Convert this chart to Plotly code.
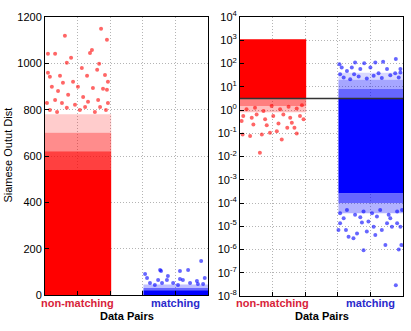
import plotly.graph_objects as go

# ---------------- data ----------------
categories = ["non-matching", "matching"]
cat_pos = [1, 4]
red_x_span = [0.0, 2.03]
blue_x_span = [3.02, 5.0]

# Left panel (linear): dense bands [lo, hi] and relative density
red_lin_bands_lo = [0, 540, 620, 700]
red_lin_bands_hi = [540, 620, 700, 780]
red_lin_density = [1.0, 0.75, 0.45, 0.2]
blue_lin_bands_lo = [0, 20, 30]
blue_lin_bands_hi = [20, 30, 45]
blue_lin_density = [1.0, 0.6, 0.25]

red_lin_out_x = [0.09, 0.31, 0.61, 1.72, 1.9, 1.38, 1.44, 0.67, 0.8, 1.66, 0.09, 0.15, 0.46, 1.13, 1.29,
                 1.6, 1.84, 1.93, 0.55, 0.86, 0.21, 0.4, 1.01, 1.47, 1.78, 1.9, 0.71, 1.17, 0.31, 1.63,
                 0.06, 0.52, 0.92, 1.32, 1.69, 1.93, 0.15, 0.37, 0.67, 1.07, 1.23, 1.53, 1.87]
red_lin_out_y = [1041, 1041, 1119, 1149, 1102, 1045, 1058, 1002, 1024, 998, 959, 942, 946, 980, 946,
                 972, 950, 920, 916, 920, 899, 881, 899, 894, 890, 886, 864, 855, 842, 842,
                 829, 829, 821, 834, 812, 829, 799, 790, 808, 799, 812, 790, 799]

blue_lin_out_x = [4.79, 3.56, 4.14, 4.39, 3.07, 3.77, 3.13, 3.47, 3.74, 4.14, 4.23, 4.66, 4.9,
                  3.22, 3.37, 3.59, 3.93, 4.08, 4.45, 4.69, 4.85, 3.53]
blue_lin_out_y = [147, 104, 104, 108, 91, 82, 73, 65, 65, 69, 65, 60, 73,
                  52, 43, 52, 52, 43, 52, 47, 47, 108]

# Right panel (log): dense bands and outliers (values)
threshold = 3.16
red_log_bands_lo = [3.16, 1.5, 0.8]
red_log_bands_hi = [1100, 3.16, 1.5]
red_log_density = [1.0, 0.5, 0.25]
blue_log_bands_lo = [2.6e-4, 1e-4, 3.6e-5, 3.16, 8, 20]
blue_log_bands_hi = [3.16, 2.6e-4, 1e-4, 8, 20, 40]
blue_log_density = [1.0, 0.6, 0.3, 0.6, 0.35, 0.15]

red_log_out_x = [0.61, 0.08, 0.31, 0.67, 0.92, 1.28, 1.45, 1.67, 1.74, 1.13, 0.82,
                 0.1, 0.36, 0.51, 0.77, 1.02, 1.33, 1.54, 1.84, 1.95,
                 0.2, 0.46, 0.72, 0.97, 1.23, 1.49, 1.74, 1.9, 0.41, 1.18, 1.59, 0.05]
red_log_out_exp = [-1.84, -1.05, -1.12, -1.05, -0.98, -1.27, -0.76, -0.76, -1.01, -0.91, -0.66,
                   -0.26, -0.33, -0.19, -0.4, -0.26, -0.19, -0.33, -0.26, -0.4,
                   0.03, 0.1, -0.04, 0.17, 0.03, 0.14, 0.06, 0.2, -0.62, -0.58, -0.55, -0.47]

blue_log_out_x = [3.05, 3.12, 3.28, 3.53, 3.81, 4.15, 4.39, 4.78, 4.92, 4.51, 4.0, 3.69, 3.43,
                  3.18, 3.38, 3.64, 3.89, 4.10, 4.35, 4.61, 4.87, 4.92, 3.07, 3.5, 4.25, 4.76,
                  3.07, 3.02, 3.25, 3.33, 3.59, 3.48, 3.74, 3.89, 3.94, 4.10, 4.15, 4.35, 4.46,
                  4.51, 4.66, 4.82, 4.92, 4.95, 4.87, 3.79, 4.78,
                  3.07, 3.28, 3.53, 3.79, 4.05, 4.30, 4.56, 4.82, 4.97, 3.18, 3.69, 4.2, 4.61]
blue_log_out_exp = [1.97, 1.83, 1.68, 2.04, 2.01, 2.04, 2.07, 2.19, 1.76, 1.76, 1.83, 1.76, 1.83,
                    1.40, 1.32, 1.44, 1.35, 1.47, 1.38, 1.50, 1.40, 1.61, 1.54, 1.54, 1.58, 1.58,
                    -4.87, -5.16, -5.16, -5.45, -5.31, -5.52, -4.84, -5.23, -4.80, -5.02, -5.38, -5.16, -5.81,
                    -4.87, -5.02, -4.87, -5.02, -5.81, -6.0, -6.03, -7.54,
                    -4.44, -4.30, -4.51, -4.37, -4.44, -4.30, -4.51, -4.37, -4.30, -4.66, -4.61, -4.58, -4.66]

left_yticks = [0, 200, 400, 600, 800, 1000, 1200]
right_exps = list(range(-8, 5))
x_title = "Data Pairs"
y_title = "Siamese Outut Dist"

# ---------------- style ----------------
RED = "rgb(255,0,0)"
BLUE = "rgb(0,0,255)"
FONT = "Liberation Sans, Arial, sans-serif"
GRID = "#b4b4b4"
DOT = "1px,2px"

fig = go.Figure()


def add_bands(xspan, los, his, dens, color, xa, ya):
    for lo, hi, d in zip(los, his, dens):
        fig.add_trace(go.Scatter(
            x=[xspan[0], xspan[1], xspan[1], xspan[0], xspan[0]],
            y=[lo, lo, hi, hi, lo], mode="lines", fill="toself",
            fillcolor=color, opacity=d, line=dict(width=0),
            hoverinfo="skip", showlegend=False, xaxis=xa, yaxis=ya))


def add_points(xs, ys, color, xa, ya):
    fig.add_trace(go.Scatter(x=xs, y=ys, mode="markers",
                             marker=dict(size=4, color=color, opacity=0.6, line=dict(width=0)),
                             showlegend=False, xaxis=xa, yaxis=ya))


# left panel
add_bands(red_x_span, red_lin_bands_lo, red_lin_bands_hi, red_lin_density, RED, "x", "y")
add_bands(blue_x_span, blue_lin_bands_lo, blue_lin_bands_hi, blue_lin_density, BLUE, "x", "y")
add_points(red_lin_out_x, red_lin_out_y, RED, "x", "y")
add_points(blue_lin_out_x, blue_lin_out_y, BLUE, "x", "y")

# right panel
add_bands(red_x_span, red_log_bands_lo, red_log_bands_hi, red_log_density, RED, "x2", "y2")
add_bands(blue_x_span, blue_log_bands_lo, blue_log_bands_hi, blue_log_density, BLUE, "x2", "y2")
add_points(red_log_out_x, [10 ** e for e in red_log_out_exp], RED, "x2", "y2")
add_points(blue_log_out_x, [10 ** e for e in blue_log_out_exp], BLUE, "x2", "y2")
fig.add_trace(go.Scatter(x=[0, 5], y=[threshold, threshold], mode="lines",
                         line=dict(color="#333333", width=1.5), showlegend=False,
                         xaxis="x2", yaxis="y2"))

common_x = dict(range=[0, 5], tickvals=[1, 2, 3, 4], showticklabels=False,
                showgrid=True, gridcolor=GRID, griddash=DOT, gridwidth=1,
                showline=True, linecolor="black", linewidth=1, mirror=True, automargin=False,
                ticks="inside", ticklen=4, tickcolor="black", zeroline=False)
common_y = dict(showline=True, linecolor="black", linewidth=1, mirror=True, automargin=False,
                showgrid=True, gridcolor=GRID, griddash=DOT, gridwidth=1,
                ticks="inside", ticklen=4, tickcolor="black", zeroline=False,
                tickfont=dict(size=11, family=FONT, color="black"))

label_y = 1 - 303 / 331
title_y = 1 - 316 / 331
panels = [(45 / 411, 208 / 411), (240 / 411, 403 / 411)]
annotations = []
for (d0, d1) in panels:
    w = d1 - d0
    for cat, pos, col in zip(categories, cat_pos, ["#d81e3a", "#2a2acc"]):
        annotations.append(dict(text="<b>%s</b>" % cat, x=d0 + w * pos / 5, y=label_y,
                                xref="paper", yref="paper", xanchor="center", yanchor="middle",
                                showarrow=False, font=dict(size=11, color=col, family=FONT)))
    annotations.append(dict(text="<b>%s</b>" % x_title, x=(d0 + d1) / 2, y=title_y,
                            xref="paper", yref="paper", xanchor="center", yanchor="middle",
                            showarrow=False, font=dict(size=11, family=FONT, color="black")))
annotations.append(dict(text=y_title, x=8 / 411, y=0.53, xref="paper", yref="paper",
                        xanchor="center", yanchor="middle",
                        textangle=-90, showarrow=False, font=dict(size=11, family=FONT)))

fig.update_layout(
    width=411, height=331, margin=dict(l=0, r=0, t=0, b=0, pad=0),
    paper_bgcolor="white", plot_bgcolor="white",
    font=dict(family=FONT, color="black"),
    xaxis=dict(domain=list(panels[0]), anchor="y", **common_x),
    xaxis2=dict(domain=list(panels[1]), anchor="y2", **common_x),
    yaxis=dict(domain=[1 - 295 / 331, 1 - 17 / 331], anchor="x", range=[0, 1200],
               tickvals=left_yticks, **common_y),
    yaxis2=dict(domain=[1 - 296 / 331, 1 - 17 / 331], anchor="x2", type="log", range=[-8, 4],
                tickvals=[10 ** e for e in right_exps],
                ticktext=["10<sup>%d</sup>" % e for e in right_exps], **common_y),
    annotations=annotations,
)

fig.write_html("out.html", config={"displayModeBar": False},
               post_script="document.body.style.margin='0';")
